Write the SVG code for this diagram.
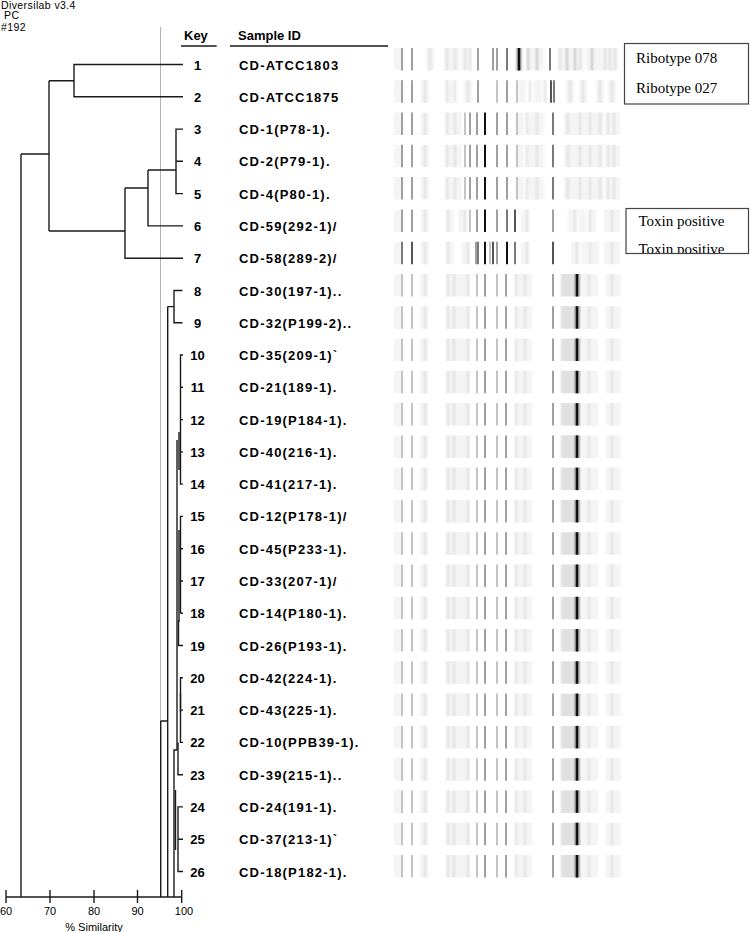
<svg xmlns="http://www.w3.org/2000/svg" width="750" height="932" viewBox="0 0 750 932">
<style>
.ln{fill:none;stroke:#1a1a1a;stroke-width:1.4}
.cut{fill:none;stroke:#b4b4b4;stroke-width:1}
.key{font-family:"Liberation Sans",Arial,sans-serif;font-weight:bold;font-size:13px;text-anchor:middle;fill:#000}
.sid{font-family:"Liberation Sans",Arial,sans-serif;font-weight:bold;font-size:13px;letter-spacing:1.2px;fill:#000}
.hdr{font-family:"Liberation Sans",Arial,sans-serif;font-weight:bold;font-size:13px;fill:#000}
.sm{font-family:"Liberation Sans",Arial,sans-serif;font-size:10.5px;letter-spacing:0.4px;fill:#000}
.ax{font-family:"Liberation Sans",Arial,sans-serif;font-size:11px;fill:#000;text-anchor:middle}
.note{font-family:"Liberation Serif","Times New Roman",serif;font-size:15px;fill:#000}
.box{fill:#fff;stroke:#444;stroke-width:1.2}
.s1{stroke:#111}.s2{stroke:#555}.s3{stroke:#7a7a7a}.s4{stroke:#a0a0a0}.s5{stroke:#c4c4c4}.s6{stroke:#e0e0e0}.s7{stroke:#f4f4f4}
.lane path{fill:none}
.fz{filter:url(#soft)}
</style>
<defs>
<filter id="soft" filterUnits="userSpaceOnUse" x="380" y="-5" width="260" height="35"><feGaussianBlur stdDeviation="1 0"/></filter>
<clipPath id="clipbox"><rect x="626" y="208" width="123" height="45"/></clipPath>
<g id="laneR1" class="lane" stroke-width="2">
<path class="s7 fz" stroke-width="8" d="M398 0v22.5M430 0v22.5M448 0v22.5M456 0v22.5M466 0v22.5M532 0v22.5M540 0v22.5M563 0v22.5M571 0v22.5M580 0v22.5M590 0v22.5M598 0v22.5M606 0v22.5M614 0v22.5"/>
<path class="s6 fz" d="M430 0v22.5M447 0v22.5M455 0v22.5M465 0v22.5M470 0v22.5M560 0v22.5M580 0v22.5M605 0v22.5M610 0v22.5M615 0v22.5"/>
<path class="s5 fz" d="M528 0v22.5M537 0v22.5M567 0v22.5M575 0v22.5M592 0v22.5"/>
<path class="s4" d="M402 0v22.5M412 0v22.5M478 0v22.5M493 0v22.5M497 0v22.5"/>
<path class="s3" d="M507 0v22.5M550 0v22.5"/>
<path class="s4 fz" stroke-width="5" d="M519 0v22.5"/>
<path class="s1" stroke-width="2.5" d="M519 0v22.5"/>
</g>
<g id="laneR2" class="lane" stroke-width="2">
<path class="s7 fz" stroke-width="8" d="M398 0v22.5M425 0v22.5M450 0v22.5M468 0v22.5M522 0v22.5M538 0v22.5M570 0v22.5M583 0v22.5M600 0v22.5M612 0v22.5"/>
<path class="s6 fz" d="M425 0v22.5M447 0v22.5M455 0v22.5M468 0v22.5M530 0v22.5M545 0v22.5M570 0v22.5M583 0v22.5M600 0v22.5M612 0v22.5"/>
<path class="s5" d="M497 0v22.5M517 0v22.5"/>
<path class="s4" d="M402 0v22.5M412 0v22.5M478 0v22.5M507 0v22.5"/>
<path class="s3" d="M554 0v22.5"/>
<path class="s2" d="M551 0v22.5"/>
</g>
<g id="laneA" class="lane" stroke-width="2">
<path class="s7 fz" stroke-width="8" d="M398 0v22.5M425 0v22.5M450 0v22.5M458 0v22.5M520 0v22.5M532 0v22.5M540 0v22.5M568 0v22.5M576 0v22.5M584 0v22.5M592 0v22.5M600 0v22.5M610 0v22.5M616 0v22.5"/>
<path class="s6 fz" d="M425 0v22.5M447 0v22.5M455 0v22.5M527 0v22.5M537 0v22.5M568 0v22.5M580 0v22.5M590 0v22.5M600 0v22.5M608 0v22.5M614 0v22.5"/>
<path class="s5" d="M465 0v22.5M517 0v22.5"/>
<path class="s4" d="M402 0v22.5M412 0v22.5M470 0v22.5M477 0v22.5M497 0v22.5M507 0v22.5"/>
<path class="s3" d="M553 0v22.5"/>
<path class="s1" d="M485 0v22.5"/>
</g>
<g id="laneR6" class="lane" stroke-width="2">
<path class="s7 fz" stroke-width="8" d="M398 0v22.5M425 0v22.5M450 0v22.5M462 0v22.5M525 0v22.5M572 0v22.5M582 0v22.5M592 0v22.5M608 0v22.5M616 0v22.5"/>
<path class="s6 fz" d="M425 0v22.5M448 0v22.5M465 0v22.5M527 0v22.5M575 0v22.5M590 0v22.5M612 0v22.5"/>
<path class="s5" d="M470 0v22.5"/>
<path class="s4" d="M402 0v22.5M412 0v22.5M477 0v22.5M497 0v22.5M553 0v22.5"/>
<path class="s3" d="M507 0v22.5"/>
<path class="s2" d="M515 0v22.5"/>
<path class="s1" d="M485 0v22.5"/>
</g>
<g id="laneR7" class="lane" stroke-width="2">
<path class="s7 fz" stroke-width="8" d="M398 0v22.5M425 0v22.5M450 0v22.5M466 0v22.5M525 0v22.5M575 0v22.5M585 0v22.5M595 0v22.5M608 0v22.5M616 0v22.5"/>
<path class="s6 fz" d="M425 0v22.5M448 0v22.5M468 0v22.5M527 0v22.5M577 0v22.5M590 0v22.5M612 0v22.5"/>
<path class="s5" d="M490 0v22.5"/>
<path class="s4" d="M476 0v22.5M497 0v22.5"/>
<path class="s3" d="M402 0v22.5M478 0v22.5M515 0v22.5"/>
<path class="s2" d="M412 0v22.5M493 0v22.5M553 0v22.5"/>
<path class="s1" d="M485 0v22.5M507 0v22.5"/>
</g>
<g id="laneB" class="lane" stroke-width="2">
<path class="s7 fz" stroke-width="8" d="M398 0v22.5M424 0v22.5M450 0v22.5M458 0v22.5M466 0v22.5M520 0v22.5M528 0v22.5M586 0v22.5M594 0v22.5M610 0v22.5M617 0v22.5"/>
<path class="s6 fz" stroke-width="12" d="M567 0v22.5"/>
<path class="s6 fz" d="M425 0v22.5M448 0v22.5M454 0v22.5M468 0v22.5M516 0v22.5M525 0v22.5M589 0v22.5M612 0v22.5"/>
<path class="s5" d="M402 0v22.5M412 0v22.5M477 0v22.5M497 0v22.5"/>
<path class="s4" d="M485 0v22.5M506 0v22.5M553 0v22.5"/>
<path class="s4 fz" stroke-width="6" d="M577 0v22.5"/>
<path class="s1" stroke-width="2.5" d="M577 0v22.5"/>
</g>
</defs>
<rect width="750" height="932" fill="#fff"/>

<g id="header">
<text class="sm" x="1" y="9">Diversilab v3.4</text>
<text class="sm" x="4" y="19.3">PC</text>
<text class="sm" x="1" y="30.5">#192</text>
<text class="hdr" x="184" y="40">Key</text>
<text class="hdr" x="238" y="40">Sample ID</text>
<path class="ln" d="M181,46H216.7M230,46H388"/>
</g>

<path id="cutoff" class="cut" d="M160.5,27V897"/>

<g id="connectors">
<path class="ln" d="M183,64.5H74V96.8H183M49,80.7H74"/>
<path class="ln" d="M183,129.1H176V193.6H183M176,161.3H183M148,170H176M148,170V225.9H183M125,188H148M125,188V258.2H183M49,231H125M49,80.7V231M21,154H49M21,154V897"/>
<path class="ln" d="M182.5,290.5H174V322.7H182.5M167.7,306.6H174M167.7,306.6V897M160.7,721H167.7M160.7,721V897"/>
<path class="ln" d="M183,355H180.5V484.1H183M180.5,387.3H183M180.5,419.6H183M180.5,451.9H183"/>
<path class="ln" stroke-width="3" d="M179,432V470"/>
<path class="ln" d="M183,516.4H180.5V613.3M180.5,548.7H183M180.5,581H183M180.5,613.3H183M178.5,620V645.5H183"/>
<path class="ln" stroke-width="3" d="M179,530V622"/>
<path class="ln" d="M183,677.8H180.5V742.4H183M180.5,710.1H183M178,742.4V774.7H183"/>
<path class="ln" stroke-width="2.5" d="M180.5,693V712"/>
<path class="ln" d="M183,806.9H178V871.5H183M178,839.2H183"/>
<path class="ln" stroke-width="2" d="M177,440V750"/>
<path class="ln" d="M177,750H174V897"/>
<path class="ln" stroke-width="2" d="M175.5,790V850"/>
</g>

<g id="axis">
<path class="ln" d="M6,897H181.7M6,890V903M50,890V903M94,890V903M137.5,890V903M181.7,890V903"/>
<text class="ax" x="6" y="915">60</text>
<text class="ax" x="50" y="915">70</text>
<text class="ax" x="94" y="915">80</text>
<text class="ax" x="137.5" y="915">90</text>
<text class="ax" x="184" y="915">100</text>
<text class="ax" x="94" y="931">% Similarity</text>
</g>

<g id="row1"><text class="key" x="197.5" y="69.5">1</text><text class="sid" x="239" y="69.5">CD-ATCC1803</text><use href="#laneR1" y="48"/></g>
<g id="row2"><text class="key" x="197.5" y="101.8">2</text><text class="sid" x="239" y="101.8">CD-ATCC1875</text><use href="#laneR2" y="80.3"/></g>
<g id="row3"><text class="key" x="197.5" y="134.1">3</text><text class="sid" x="239" y="134.1">CD-1(P78-1).</text><use href="#laneA" y="112.6"/></g>
<g id="row4"><text class="key" x="197.5" y="166.3">4</text><text class="sid" x="239" y="166.3">CD-2(P79-1).</text><use href="#laneA" y="144.8"/></g>
<g id="row5"><text class="key" x="197.5" y="198.6">5</text><text class="sid" x="239" y="198.6">CD-4(P80-1).</text><use href="#laneA" y="177.1"/></g>
<g id="row6"><text class="key" x="197.5" y="230.9">6</text><text class="sid" x="239" y="230.9">CD-59(292-1)/</text><use href="#laneR6" y="209.4"/></g>
<g id="row7"><text class="key" x="197.5" y="263.2">7</text><text class="sid" x="239" y="263.2">CD-58(289-2)/</text><use href="#laneR7" y="241.7"/></g>
<g id="row8"><text class="key" x="197.5" y="295.5">8</text><text class="sid" x="239" y="295.5">CD-30(197-1)..</text><use href="#laneB" y="274"/></g>
<g id="row9"><text class="key" x="197.5" y="327.7">9</text><text class="sid" x="239" y="327.7">CD-32(P199-2)..</text><use href="#laneB" y="306.2"/></g>
<g id="row10"><text class="key" x="197.5" y="360">10</text><text class="sid" x="239" y="360">CD-35(209-1)`</text><use href="#laneB" y="338.5"/></g>
<g id="row11"><text class="key" x="197.5" y="392.3">11</text><text class="sid" x="239" y="392.3">CD-21(189-1).</text><use href="#laneB" y="370.8"/></g>
<g id="row12"><text class="key" x="197.5" y="424.6">12</text><text class="sid" x="239" y="424.6">CD-19(P184-1).</text><use href="#laneB" y="403.1"/></g>
<g id="row13"><text class="key" x="197.5" y="456.9">13</text><text class="sid" x="239" y="456.9">CD-40(216-1).</text><use href="#laneB" y="435.4"/></g>
<g id="row14"><text class="key" x="197.5" y="489.1">14</text><text class="sid" x="239" y="489.1">CD-41(217-1).</text><use href="#laneB" y="467.6"/></g>
<g id="row15"><text class="key" x="197.5" y="521.4">15</text><text class="sid" x="239" y="521.4">CD-12(P178-1)/</text><use href="#laneB" y="499.9"/></g>
<g id="row16"><text class="key" x="197.5" y="553.7">16</text><text class="sid" x="239" y="553.7">CD-45(P233-1).</text><use href="#laneB" y="532.2"/></g>
<g id="row17"><text class="key" x="197.5" y="586">17</text><text class="sid" x="239" y="586">CD-33(207-1)/</text><use href="#laneB" y="564.5"/></g>
<g id="row18"><text class="key" x="197.5" y="618.3">18</text><text class="sid" x="239" y="618.3">CD-14(P180-1).</text><use href="#laneB" y="596.8"/></g>
<g id="row19"><text class="key" x="197.5" y="650.5">19</text><text class="sid" x="239" y="650.5">CD-26(P193-1).</text><use href="#laneB" y="629"/></g>
<g id="row20"><text class="key" x="197.5" y="682.8">20</text><text class="sid" x="239" y="682.8">CD-42(224-1).</text><use href="#laneB" y="661.3"/></g>
<g id="row21"><text class="key" x="197.5" y="715.1">21</text><text class="sid" x="239" y="715.1">CD-43(225-1).</text><use href="#laneB" y="693.6"/></g>
<g id="row22"><text class="key" x="197.5" y="747.4">22</text><text class="sid" x="239" y="747.4">CD-10(PPB39-1).</text><use href="#laneB" y="725.9"/></g>
<g id="row23"><text class="key" x="197.5" y="779.7">23</text><text class="sid" x="239" y="779.7">CD-39(215-1)..</text><use href="#laneB" y="758.2"/></g>
<g id="row24"><text class="key" x="197.5" y="811.9">24</text><text class="sid" x="239" y="811.9">CD-24(191-1).</text><use href="#laneB" y="790.4"/></g>
<g id="row25"><text class="key" x="197.5" y="844.2">25</text><text class="sid" x="239" y="844.2">CD-37(213-1)`</text><use href="#laneB" y="822.7"/></g>
<g id="row26"><text class="key" x="197.5" y="876.5">26</text><text class="sid" x="239" y="876.5">CD-18(P182-1).</text><use href="#laneB" y="855"/></g>

<g id="ribotypeBox">
<rect class="box" x="624.5" y="43.5" width="124" height="60.5"/>
<text class="note" x="636" y="62.5">Ribotype 078</text>
<text class="note" x="636" y="92.5">Ribotype 027</text>
</g>
<g id="toxinBox">
<rect class="box" x="626" y="208.5" width="122.5" height="45"/>
<g clip-path="url(#clipbox)">
<text class="note" x="638.5" y="226">Toxin positive</text>
<text class="note" x="638.5" y="254">Toxin positive</text>
</g>
</g>
</svg>
